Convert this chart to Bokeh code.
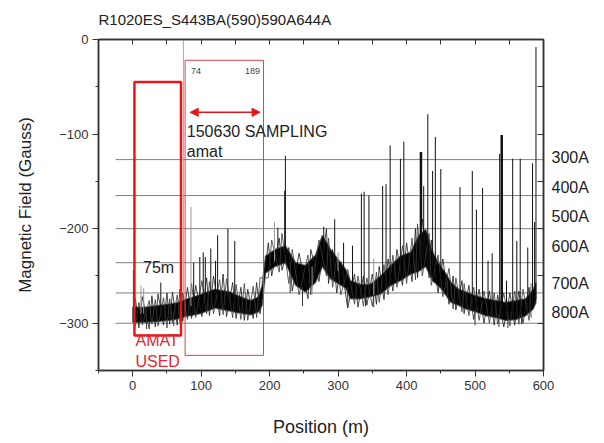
from bokeh.plotting import figure
from bokeh.models import Range1d, LinearAxis, SingleIntervalTicker, FixedTicker, Label, Arrow, NormalHead
from bokeh.embed import file_html
from bokeh.resources import INLINE

FONT = "Liberation Sans"

title_text = "R1020ES_S443BA(590)590A644A"
x_label = "Position (m)"
y_label = "Magnetic Field (Gauss)"

# dense trace: upper / lower envelope
env_x = [0, 18, 40, 62, 77, 98, 120, 142, 154, 172, 184, 189, 194, 208, 223, 238, 252, 267, 277, 289,
         311, 318, 333, 347, 362, 377, 391, 406, 418, 428, 438, 450, 457, 465, 476, 487, 501, 516, 530,
         545, 560, 574, 585, 589]
env_hi = [-283, -283, -281, -279, -275, -270, -264, -267, -271, -276, -272, -260, -229, -222, -218, -236,
          -239, -228, -207, -222, -243, -255, -259, -259, -250, -239, -229, -225, -207, -201, -225, -240,
          -247, -257, -264, -267, -271, -274, -276, -278, -276, -274, -264, -257]
env_lo = [-299, -299, -298, -296, -293, -290, -284, -287, -289, -291, -288, -281, -247, -240, -236, -260,
          -267, -257, -240, -253, -263, -274, -274, -272, -269, -260, -255, -248, -245, -240, -255, -263,
          -270, -278, -281, -285, -288, -292, -294, -297, -296, -292, -285, -278]

# noise extremes around the band (x, top, bottom)
noise_x = [4, 9, 14, 24, 28, 33, 37, 45, 50, 54, 58, 65, 69, 73,
           80, 86, 92, 101, 108, 112, 118, 127, 132, 137, 146, 151, 158, 163, 168, 176, 181, 186,
           198, 203, 214, 218, 228, 233, 243, 256, 260, 272, 283, 286, 292, 298,
           304, 314, 324, 329, 337, 342, 350, 356, 360, 367, 373, 380, 386, 394, 400, 408, 413, 416,
           423, 433, 436, 446,
           453, 462, 468, 472, 481, 484, 491, 498, 506, 513, 521, 528, 533, 542, 551, 558, 564, 570,
           579, 582]
noise_top = [-274, -278, -272, -276, -271, -275, -269, -273, -268, -274, -267, -270, -264, -268,
             -262, -258, -260, -255, -252, -256, -250, -254, -248, -253, -257, -259, -262, -258, -264,
             -261, -257, -252,
             -215, -212, -210, -205, -220, -222, -226, -228, -222, -212, -200, -210, -222, -230,
             -235, -243, -248, -250, -250, -252, -248, -246, -240, -238, -232, -228, -222, -218, -215,
             -210, -200, -195, -190, -205, -212, -228,
             -232, -242, -250, -252, -255, -258, -260, -262, -264, -266, -266, -268, -270, -268, -268,
             -266, -266, -264, -262, -258]
noise_bot = [-303, -305, -302, -306, -301, -304, -303, -302, -305, -301, -300, -302, -299, -298,
             -296, -295, -294, -293, -290, -292, -290, -292, -291, -293, -294, -295, -296, -297, -297,
             -295, -294, -290,
             -252, -250, -246, -244, -258, -266, -270, -274, -270, -256, -250, -258, -262, -268,
             -270, -284, -280, -283, -282, -281, -282, -280, -278, -275, -270, -266, -262, -260, -258,
             -256, -254, -252, -250, -252, -260, -268,
             -272, -280, -285, -286, -288, -290, -292, -296, -297, -300, -300, -302, -301, -304, -303,
             -302, -301, -300, -297, -294]

# tall spikes
spike_x = [1, 41, 89, 98, 103, 106, 114, 121, 124, 139, 149, 212, 222, 223, 279, 295, 308, 321, 334, 338,
           345, 365, 370, 376, 391, 396, 425, 431, 438, 442, 450, 478, 496, 502, 511, 519, 525, 536,
           546, 555, 561, 566, 577, 584, 587, 589]
spike_top = [-244, -257, -236, -230, -225, -230, -221, -234, -207, -200, -213, -199, -160, -123, -198, -190,
             -215, -218, -163, -161, -165, -155, -153, -112, -126, -108, -155, -79, -139, -103, -137, -156,
             -139, -180, -157, -234, -226, -121, -255, -126, -213, -126, -220, -131, -193, -8]
spike_base = [-292, -290, -286, -285, -280, -282, -280, -276, -278, -280, -282, -235, -230, -230, -225, -245,
              -255, -265, -265, -265, -265, -265, -262, -255, -250, -245, -235, -235, -240, -245, -255, -275,
              -280, -282, -284, -286, -287, -290, -292, -292, -292, -290, -288, -282, -280, -275]

# thick spikes
thick_x = [421, 539]
thick_top = [-119, -101]
thick_base = [-235, -285]

# faint (grey) spikes
faint_x = [12, 16, 85, 207, 262, 300, 352]
faint_top = [-260, -263, -177, -193, -240, -225, -232]
faint_base = [-290, -290, -282, -235, -270, -245, -270]

# downward dips below the band
dip_x = [20, 60, 230, 248, 314, 340, 352, 460, 500, 535, 548, 568]
dip_bottom = [-306, -303, -268, -282, -283, -282, -283, -272, -302, -304, -305, -301]
dip_base = [-290, -290, -250, -262, -262, -270, -270, -255, -285, -290, -292, -290]

# current levels
level_y = [-127, -165, -200, -236, -268, -300]
level_names = ["300A", "400A", "500A", "600A", "700A", "800A"]
level_label_y = [-125, -156, -187, -219, -258, -289]

x_mirror_ticks = [-50, 0, 50, 100, 150, 200, 250, 300, 350, 400, 450, 500, 550]
y_mirror_ticks = [-350, -300, -250, -200, -150, -100, -50, 0]

RED = "#e8161b"
LIGHT_RED = "#d9434a"
AXIS = "#333333"

p = figure(width=600, height=440, output_backend="svg", toolbar_location=None,
           x_range=Range1d(-50, 600), y_range=Range1d(-350, 0),
           min_border_left=98, min_border_right=57, min_border_top=39, min_border_bottom=70,
           title=title_text)
p.title.text_font = FONT
p.title.text_font_size = "15px"
p.title.text_font_style = "normal"
p.title.text_color = "#222222"
p.title.align = "left"
p.title.vertical_align = "top"
p.title.standoff = 20
p.grid.visible = False
p.outline_line_color = AXIS
p.outline_line_width = 1.5

for ax in (p.xaxis[0], p.yaxis[0]):
    ax.ticker = SingleIntervalTicker(interval=100, num_minor_ticks=2)
    ax.axis_line_color = AXIS
    ax.axis_line_width = 1.5
    ax.major_tick_line_color = AXIS
    ax.minor_tick_line_color = AXIS
    ax.major_tick_in = 0
    ax.major_tick_out = 6
    ax.minor_tick_in = 0
    ax.minor_tick_out = 3
    ax.major_label_text_font = FONT
    ax.major_label_text_font_size = "13px"
    ax.major_label_text_color = AXIS
    ax.major_label_standoff = 4
    ax.axis_label_text_font = FONT
    ax.axis_label_text_font_style = "normal"
    ax.axis_label_text_color = "#222222"

p.xaxis.axis_label = x_label
p.xaxis.axis_label_text_font_size = "18px"
p.xaxis.axis_label_standoff = 24
p.yaxis.axis_label = y_label
p.yaxis.axis_label_text_font_size = "17px"
p.yaxis.axis_label_standoff = 21

# mirrored top axis: inward ticks only
top_ax = LinearAxis(ticker=FixedTicker(ticks=[], minor_ticks=x_mirror_ticks),
                    major_tick_in=0, major_tick_out=0, minor_tick_in=5, minor_tick_out=0,
                    axis_line_color=AXIS, axis_line_width=1.5, minor_tick_line_color=AXIS)
p.add_layout(top_ax, "above")

# right axis: inward ticks + current level labels
right_ax = LinearAxis(ticker=FixedTicker(ticks=level_label_y, minor_ticks=y_mirror_ticks),
                      major_tick_in=0, major_tick_out=0, minor_tick_in=6, minor_tick_out=0,
                      major_label_overrides={yv: name for yv, name in zip(level_label_y, level_names)},
                      major_label_standoff=8, major_label_text_font=FONT,
                      major_label_text_font_size="16px", major_label_text_color="#222222",
                      axis_line_color=AXIS, axis_line_width=1.5, minor_tick_line_color=AXIS)
p.add_layout(right_ax, "right")

# level lines
p.segment(x0=-25, y0=level_y, x1=600, y1=level_y, line_color="#808080", line_width=1)

# vertical marker at 74 m
p.segment(x0=74, y0=0, x1=74, y1=-285, line_color="#aaaaaa", line_width=1)

# trace: dense band + noisy zig-zags through the read extremes
poly_x = env_x + env_x[::-1]
poly_y = env_hi + env_lo[::-1]
p.patch(poly_x, poly_y, fill_color="#000000", line_color="#333333", line_width=1.5, line_alpha=0.6)
zig_a = [t if i % 2 == 0 else b for i, (t, b) in enumerate(zip(noise_top, noise_bot))]
zig_b = [b if i % 2 == 0 else t for i, (t, b) in enumerate(zip(noise_top, noise_bot))]
p.line(noise_x, zig_a, line_color="#1a1a1a", line_width=0.8)
p.line(noise_x, zig_b, line_color="#3a3a3a", line_width=0.8)
p.segment(x0=faint_x, y0=faint_base, x1=faint_x, y1=faint_top, line_color="#999999", line_width=1)
p.segment(x0=dip_x, y0=dip_base, x1=dip_x, y1=dip_bottom, line_color="#333333", line_width=1)
p.segment(x0=spike_x, y0=spike_base, x1=spike_x, y1=spike_top, line_color="#111111", line_width=1)
p.segment(x0=thick_x, y0=thick_base, x1=thick_x, y1=thick_top, line_color="#111111", line_width=2.5)

# boxes
p.quad(left=2.5, right=70.5, bottom=-313, top=-45, fill_color=None, line_color=RED, line_width=2.5)
p.quad(left=76.5, right=191, bottom=-334, top=-22, fill_color=None, line_color=LIGHT_RED, line_width=1)

arrow = Arrow(start=NormalHead(size=8, fill_color=RED, line_color=RED),
              end=NormalHead(size=8, fill_color=RED, line_color=RED),
              x_start=84, y_start=-77, x_end=186, y_end=-77, line_color=RED, line_width=1.5)
p.add_layout(arrow)


def lab(x, y, text, size, color="#222222", align="left"):
    p.add_layout(Label(x=x, y=y, text=text, text_font=FONT, text_font_size=size,
                       text_color=color, text_align=align, text_baseline="middle"))


lab(85, -33, "74", "9px", "#444444")
lab(164, -33, "189", "9px", "#444444")
lab(79, -97, "150630 SAMPLING", "16px")
lab(79, -118, "amat", "16px")
lab(15, -241, "75m", "16px")
lab(4, -318, "AMAT", "16px", "#e2282e")
lab(4, -341, "USED", "16px", "#e2282e")

open("out.html", "w").write(file_html(p, INLINE))
